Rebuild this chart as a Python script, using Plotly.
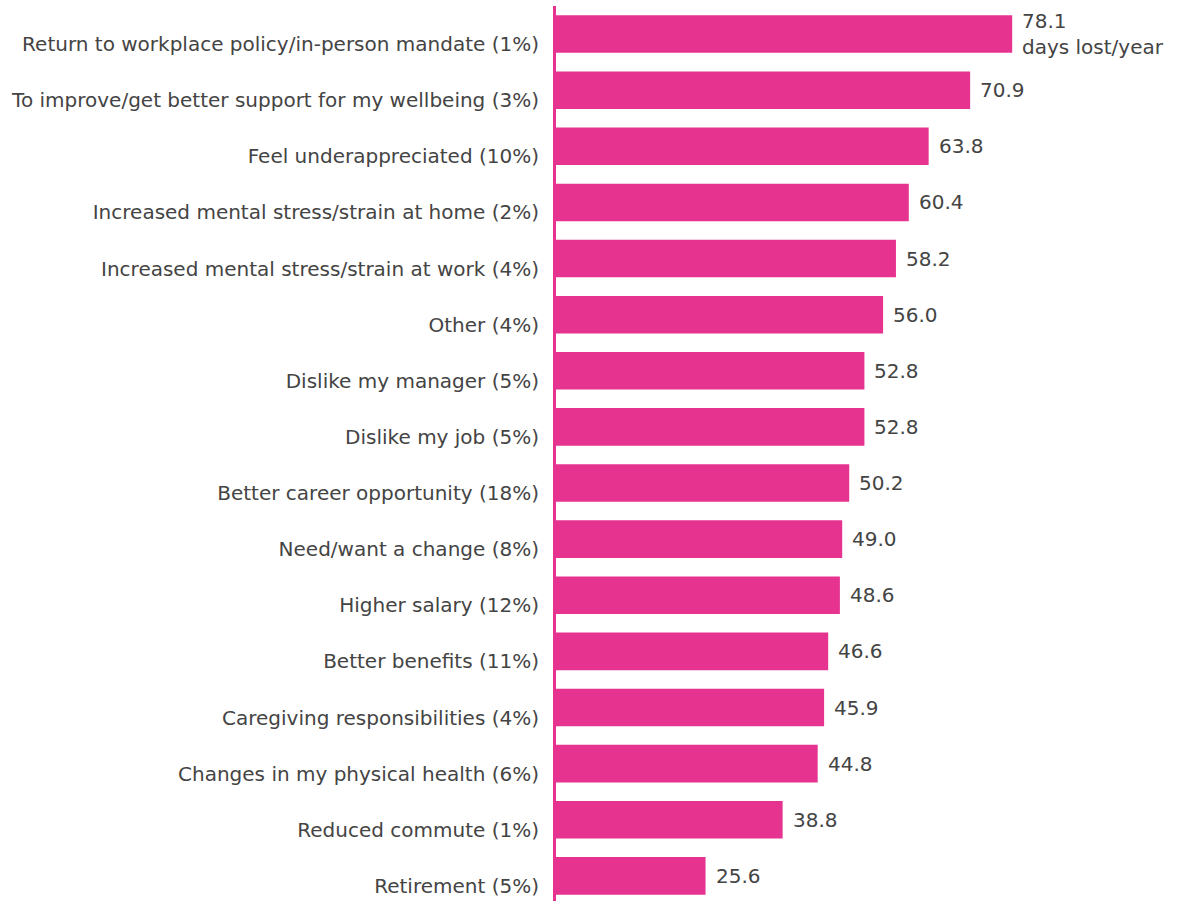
import plotly.graph_objects as go

reasons = [
    "Return to workplace policy/in-person mandate (1%)",
    "To improve/get better support for my wellbeing (3%)",
    "Feel underappreciated (10%)",
    "Increased mental stress/strain at home (2%)",
    "Increased mental stress/strain at work (4%)",
    "Other (4%)",
    "Dislike my manager (5%)",
    "Dislike my job (5%)",
    "Better career opportunity (18%)",
    "Need/want a change (8%)",
    "Higher salary (12%)",
    "Better benefits (11%)",
    "Caregiving responsibilities (4%)",
    "Changes in my physical health (6%)",
    "Reduced commute (1%)",
    "Retirement (5%)",
]
days_lost = [78.1, 70.9, 63.8, 60.4, 58.2, 56.0, 52.8, 52.8, 50.2, 49.0,
             48.6, 46.6, 45.9, 44.8, 38.8, 25.6]
unit_note = "days lost/year"

PINK = "#E6338F"
TEXT = "#444444"
FONT = "DejaVu Sans"

fig = go.Figure(
    go.Bar(
        x=days_lost,
        y=reasons,
        orientation="h",
        marker=dict(color=PINK, line=dict(width=0)),
        width=0.67,
        hoverinfo="skip",
    )
)

# value labels, left aligned just past each bar end
for i, (r, v) in enumerate(zip(reasons, days_lost)):
    label = f"{v:.1f}"
    if i == 0:
        label += "<br>" + unit_note
    fig.add_annotation(
        x=v, y=r, text=label, showarrow=False,
        xanchor="left", yanchor="middle", align="left", xshift=8,
        font=dict(family=FONT, size=20, color=TEXT),
    )

fig.update_layout(
    width=1181, height=901,
    margin=dict(l=556, r=0, t=6, b=0),
    paper_bgcolor="white", plot_bgcolor="white",
    showlegend=False,
    bargap=0.33,
)
fig.update_xaxes(
    range=[0, 107], visible=False, showgrid=False, zeroline=False,
)
fig.update_yaxes(
    type="category",
    range=[15.447, -0.5],
    showgrid=False, zeroline=False,
    showline=True, linecolor=PINK, linewidth=3,
    ticks="outside", ticklen=10, tickcolor="rgba(0,0,0,0)",
    ticklabelshift=-10,
    tickfont=dict(family=FONT, size=20, color=TEXT),
)

fig.write_html("out.html")
